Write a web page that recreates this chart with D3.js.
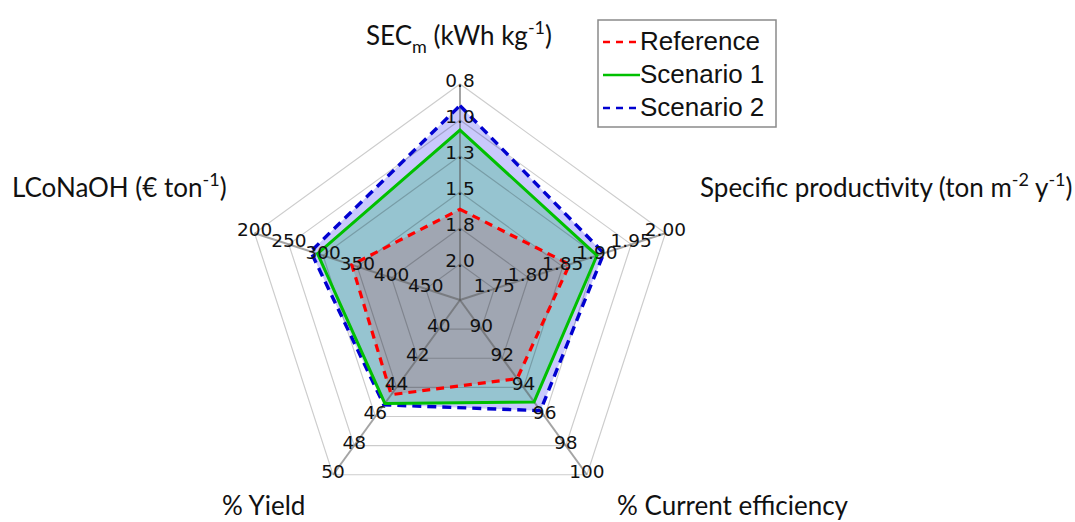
<!DOCTYPE html>
<html>
<head>
<meta charset="utf-8">
<script src="https://cdn.jsdelivr.net/npm/d3@7"></script>
<style>
  body { margin: 0; background: #fff; }
  svg { display: block; }
</style>
</head>
<body>
<div id="chart"></div>
<script>
// axes, clockwise from the top
const axisNames = ["SEC", "Specific productivity", "% Current efficiency", "% Yield", "LCoNaOH"];
// value at the centre and at the outer ring of each axis
const axisCentre = [2.25, 1.70, 88, 38, 500];
const axisOuter = [0.75, 2.00, 100, 50, 200];
const axisTicks = [
  [2.0, 1.75, 1.5, 1.25, 1.0, 0.75],
  [1.75, 1.80, 1.85, 1.90, 1.95, 2.00],
  [90, 92, 94, 96, 98, 100],
  [40, 42, 44, 46, 48, 50],
  [450, 400, 350, 300, 250, 200]
];
const tickLabels = [
  ["2.0", "1.8", "1.5", "1.3", "1.0", "0.8"],
  ["1.75", "1.80", "1.85", "1.90", "1.95", "2.00"],
  ["90", "92", "94", "96", "98", "100"],
  ["40", "42", "44", "46", "48", "50"],
  ["450", "400", "350", "300", "250", "200"]
];

const seriesNames = ["Reference", "Scenario 1", "Scenario 2"];
const reference = [1.62, 1.86, 93.4, 44.5, 342];
const scenario1 = [1.07, 1.90, 95.0, 45.1, 292];
const scenario2 = [0.90, 1.91, 95.6, 45.2, 282];

const width = 1075, height = 522;
const cx = 460, cy = 300, R = 216;
const nRings = 6;

const svg = d3.select("#chart").append("svg")
  .attr("width", width)
  .attr("height", height);

const angle = i => -Math.PI / 2 + i * 2 * Math.PI / 5;
const scales = axisNames.map((d, i) =>
  d3.scaleLinear().domain([axisCentre[i], axisOuter[i]]).range([0, R]));
const pt = (i, v) => {
  const r = scales[i](v);
  return [cx + r * Math.cos(angle(i)), cy + r * Math.sin(angle(i))];
};

const line = d3.line().curve(d3.curveLinearClosed);
const series = [
  { name: seriesNames[2], values: scenario2, fill: "rgb(201,201,252)", stroke: "#0000d0", dash: "9,6", width: 3.4 },
  { name: seriesNames[1], values: scenario1, fill: "rgb(150,196,208)", stroke: "#00c000", dash: null, width: 3 },
  { name: seriesNames[0], values: reference, fill: "rgb(160,166,178)", stroke: "#ff0000", dash: "8,6", width: 3.2 }
];

// fills
svg.selectAll("path.area").data(series).enter().append("path")
  .attr("class", "area")
  .attr("d", s => line(s.values.map((v, i) => pt(i, v))))
  .attr("fill", s => s.fill)
  .attr("stroke", "none");

// grid rings
const ringR = d3.range(1, nRings + 1).map(k => k * R / nRings);
svg.selectAll("path.ring").data(ringR).enter().append("path")
  .attr("class", "ring")
  .attr("d", r => line(d3.range(5).map(i => [cx + r * Math.cos(angle(i)), cy + r * Math.sin(angle(i))])))
  .attr("fill", "none")
  .attr("stroke", "rgba(0,0,0,0.2)")
  .attr("stroke-width", 1.2);

// spokes
svg.selectAll("line.spoke").data(axisNames).enter().append("line")
  .attr("class", "spoke")
  .attr("x1", cx).attr("y1", cy)
  .attr("x2", (d, i) => cx + R * Math.cos(angle(i)))
  .attr("y2", (d, i) => cy + R * Math.sin(angle(i)))
  .attr("stroke", "rgba(90,90,90,0.55)")
  .attr("stroke-width", 2);

// series outlines
svg.selectAll("path.outline").data(series).enter().append("path")
  .attr("class", "outline")
  .attr("d", s => line(s.values.map((v, i) => pt(i, v))))
  .attr("fill", "none")
  .attr("stroke", s => s.stroke)
  .attr("stroke-width", s => s.width)
  .attr("stroke-dasharray", s => s.dash)
  .attr("stroke-linejoin", "miter");

// tick labels
axisTicks.forEach((ticks, i) => {
  svg.append("g").selectAll("text").data(ticks).enter().append("text")
    .attr("x", (t) => pt(i, t)[0])
    .attr("y", (t) => pt(i, t)[1] - 2)
    .attr("text-anchor", "middle")
    .attr("dominant-baseline", "middle")
    .attr("font-family", "DejaVu Sans")
    .attr("font-size", 18.5)
    .attr("fill", "#111")
    .text((t, k) => tickLabels[i][k]);
});

// axis titles
const titleFont = "Lato";
function title(x, y, parts, anchor) {
  const t = svg.append("text")
    .attr("x", x).attr("y", y)
    .attr("text-anchor", anchor || "start")
    .attr("font-family", titleFont)
    .attr("font-size", 26)
    .attr("fill", "#111");
  parts.forEach(p => {
    const ts = t.append("tspan").text(p[0]);
    if (p[1] === "sub") ts.attr("font-size", 18).attr("dy", 8);
    if (p[1] === "sup") ts.attr("font-size", 18).attr("dy", -11);
    if (p[1] === "back") ts.attr("dy", p[2]);
  });
  return t;
}
title(366, 45, [["SEC"], ["m", "sub"], [" (kWh kg", "back", -8], ["-1", "sup"], [")", "back", 11]]);
title(700, 197, [["Specific productivity (ton m"], ["-2", "sup"], [" y", "back", 11], ["-1", "sup"], [")", "back", 11]]);
title(12, 197, [["LCoNaOH (€ ton"], ["-1", "sup"], [")", "back", 11]]);
title(222, 515, [["% Yield"]]);
title(617, 515, [["% Current efficiency"]]);

// legend
const legend = svg.append("g").attr("transform", "translate(598,20)");
legend.append("rect")
  .attr("width", 178).attr("height", 107)
  .attr("fill", "#fff")
  .attr("stroke", "#8a8a8a")
  .attr("stroke-width", 1.5);
const legendItems = [series[2], series[1], series[0]];
legendItems.forEach((s, k) => {
  const y = 22 + k * 33;
  legend.append("line")
    .attr("x1", 5).attr("x2", 42)
    .attr("y1", y).attr("y2", y)
    .attr("stroke", s.stroke)
    .attr("stroke-width", 2.5)
    .attr("stroke-dasharray", s.dash ? "7,6" : null);
  legend.append("text")
    .attr("x", 42).attr("y", y + 1)
    .attr("dominant-baseline", "middle")
    .attr("font-family", "Liberation Sans")
    .attr("font-size", 26)
    .attr("fill", "#111")
    .text(s.name);
});
</script>
</body>
</html>
